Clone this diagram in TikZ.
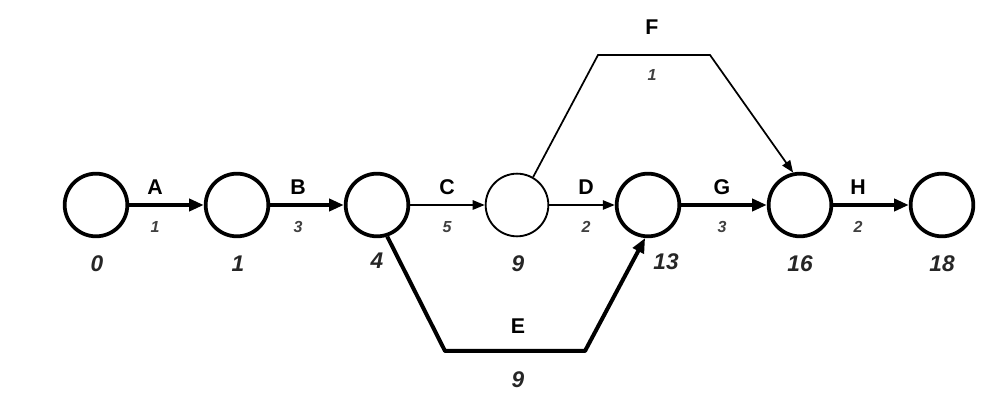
\documentclass[tikz,border=0pt]{standalone}
\usepackage{fontspec}
\setmainfont{Liberation Sans}
\usetikzlibrary{arrows.meta}
\begin{document}
\begin{tikzpicture}[x=0.75pt,y=-0.75pt,
  ev/.style={circle,draw,minimum size=47pt,inner sep=0pt,line width=2.8pt},
  evthin/.style={circle,draw,minimum size=47pt,inner sep=0pt,line width=1.4pt},
  crit/.style={line width=3pt,-{Triangle[length=11pt,width=9pt]}},
  norm/.style={line width=1.3pt,-{Triangle[length=9pt,width=7pt]}},
  act/.style={font=\bfseries\fontsize{16}{16}\selectfont},
  dur/.style={font=\bfseries\itshape\fontsize{12}{12}\selectfont,text=black!75},
  tim/.style={font=\bfseries\itshape\fontsize{17}{17}\selectfont,text=black!85}]
\useasboundingbox[fill=white] (0,0) rectangle (1006,398);
\node[ev] (n0) at (96,205) {};
\node[ev] (n1) at (237,205) {};
\node[ev] (n4) at (377,205) {};
\node[evthin] (n9) at (517,205) {};
\node[ev] (n13) at (648,205) {};
\node[ev] (n16) at (800,205) {};
\node[ev] (n18) at (942,205) {};
\draw[crit] (n0) -- (n1);
\draw[crit] (n1) -- (n4);
\draw[norm] (n4) -- (n9);
\draw[norm] (n9) -- (n13);
\draw[crit] (n13) -- (n16);
\draw[crit] (n16) -- (n18);
\coordinate (f1) at (598,55);
\coordinate (f2) at (710,55);
\draw[norm] (n9.60) -- (f1) -- (f2) -- (n16.102);
\coordinate (e1) at (445,351);
\coordinate (e2) at (585,351);
\draw[crit,line join=round] (n4.-72) -- (e1) -- (e2) -- (n13.-95);
\node[act] (la) at (155,187) {A};
\node[act] (lb) at (298,187) {B};
\node[act] (lc) at (447,187) {C};
\node[act] (ld) at (586,187) {D};
\node[act] (lg) at (722,187) {G};
\node[act] (lh) at (858,187) {H};
\node[act] (lf) at (652,27) {F};
\node[act] (le) at (518,326) {E};
\node[dur] (da) at (155,227) {1};
\node[dur] (db) at (298,227) {3};
\node[dur] (dc) at (447,227) {5};
\node[dur] (dd) at (586,227) {2};
\node[dur] (dg) at (722,227) {3};
\node[dur] (dh) at (858,227) {2};
\node[dur] (df) at (652,75) {1};
\node[tim] (de) at (518,380) {9};
\node[tim] (t0) at (97,264) {0};
\node[tim] (t1) at (238,264) {1};
\node[tim] (t4) at (377,261) {4};
\node[tim] (t9) at (518,264) {9};
\node[tim] (t13) at (666,262) {13};
\node[tim] (t16) at (800,264) {16};
\node[tim] (t18) at (942,264) {18};
\end{tikzpicture}
\end{document}
